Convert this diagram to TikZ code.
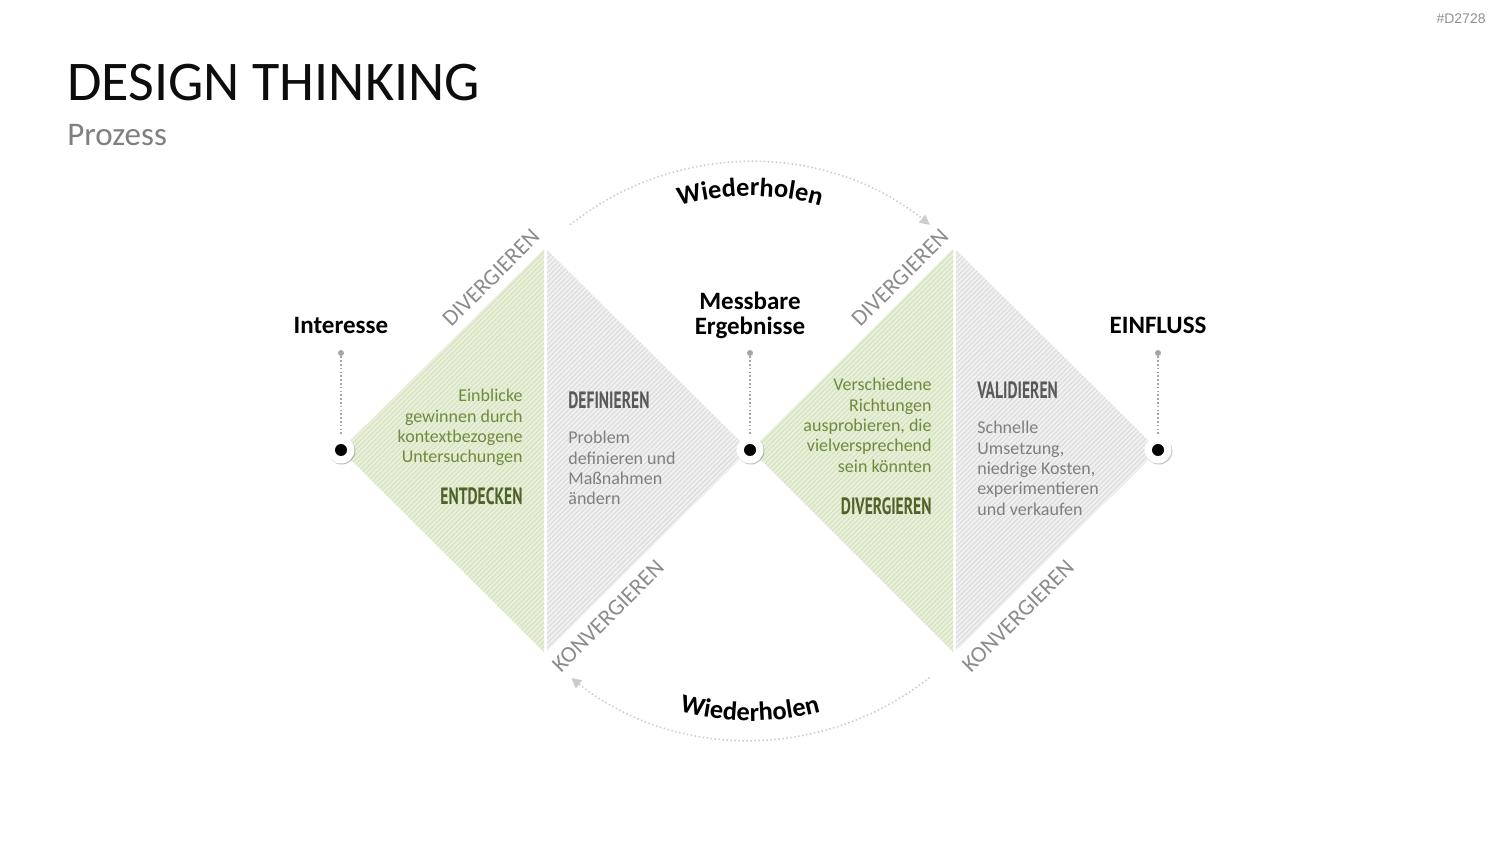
\documentclass[tikz,border=0pt]{standalone}
\usepackage{fontspec}
\setmainfont{Carlito}
\newfontfamily\condfont[FakeStretch=0.66]{PT Sans}
\newfontfamily\tagfont{Liberation Sans}
\usetikzlibrary{patterns.meta,decorations.text,shadows,arrows.meta}
\definecolor{greenfill}{HTML}{E8F0DA}
\definecolor{greenhatch}{HTML}{D3E0BC}
\definecolor{grayfill}{HTML}{F0F0F0}
\definecolor{grayhatch}{HTML}{DADADA}
\definecolor{greentext}{HTML}{6E8B3D}
\definecolor{greenhead}{HTML}{4F6228}
\definecolor{grayhead}{HTML}{595959}
\definecolor{graytext}{HTML}{7F7F7F}
\definecolor{edgegray}{HTML}{8C8C8C}
\definecolor{arcgray}{HTML}{CCCCCC}
\definecolor{stemgray}{HTML}{A6A6A6}
\newcommand\wfont{\fontsize{13.2}{14}\selectfont\bfseries}
\tikzset{
  greenpart/.style={fill=greenfill},
  greenhatchpart/.style={pattern={Lines[angle=45,distance=1.7pt,line width=0.45pt]},pattern color=greenhatch},
  graypart/.style={fill=grayfill},
  grayhatchpart/.style={pattern={Lines[angle=45,distance=1.7pt,line width=0.45pt]},pattern color=grayhatch},
  dotout/.style={circle,fill=white,minimum size=13.5pt,inner sep=0pt,
    drop shadow={shadow xshift=0.4pt,shadow yshift=-0.5pt,opacity=0.25,fill=black}},
  dotin/.style={circle,fill=black,minimum size=6pt,inner sep=0pt},
  smalldot/.style={circle,fill=stemgray,minimum size=3pt,inner sep=0pt},
  stemline/.style={draw=stemgray,line width=0.9pt,dash pattern=on 0.8pt off 1.1pt},
  arcline/.style={draw=arcgray,line width=0.8pt,dash pattern=on 0.7pt off 1.3pt,
    -{Triangle[length=5pt,width=5pt,fill=arcgray]}},
  headlbl/.style={font=\fontsize{12.5}{12.2}\selectfont\bfseries,text=black,inner sep=0pt,align=center},
  bodygreen/.style={font=\fontsize{9}{10.15}\selectfont,text=greentext,inner sep=0pt,align=right},
  bodygray/.style={font=\fontsize{9}{10.15}\selectfont,text=graytext,inner sep=0pt,align=left},
  headgreen/.style={font=\condfont\bfseries\fontsize{11.8}{12}\selectfont,text=greenhead,inner sep=0pt},
  headgray/.style={font=\condfont\bfseries\fontsize{11.8}{12}\selectfont,text=grayhead,inner sep=0pt},
  edgelbl/.style={font=\fontsize{11.5}{12}\selectfont,text=edgegray,inner sep=0pt,rotate=45},
}
\begin{document}
\begin{tikzpicture}[x=0.5pt,y=-0.5pt]
\useasboundingbox (0,0) rectangle (1500,844);
\fill[white] (0,0) rectangle (1500,844);

% title
\node[anchor=base west,inner sep=0pt,font=\fontsize{28}{30}\selectfont,text=black!95] (title) at (67,101) {DESIGN THINKING};
\node[anchor=base west,inner sep=0pt,font=\fontsize{16.5}{18}\selectfont,text=graytext] (subtitle) at (67,146) {Prozess};
\node[anchor=base east,inner sep=0pt,font=\tagfont\fontsize{7}{8}\selectfont,text=graytext!85] (tag) at (1486,24) {\#D2728};

% diamond 1
\path[greenpart] (341,450) -- (544,249) -- (544,652) -- cycle;
\path[greenhatchpart] (341,450) -- (544,249) -- (544,652) -- cycle;
\path[graypart] (547,250) -- (749,450) -- (547,651) -- cycle;
\path[grayhatchpart] (547,250) -- (749,450) -- (547,651) -- cycle;
% diamond 2
\path[greenpart] (751,450) -- (953,249) -- (953,652) -- cycle;
\path[greenhatchpart] (751,450) -- (953,249) -- (953,652) -- cycle;
\path[graypart] (956,250) -- (1158,450) -- (956,651) -- cycle;
\path[grayhatchpart] (956,250) -- (1158,450) -- (956,651) -- cycle;

% edge labels
\node[edgelbl] (div1) at (491,278) {DIVERGIEREN};
\node[edgelbl] (kon1) at (608,616) {KONVERGIEREN};
\node[edgelbl] (div2) at (900,278) {DIVERGIEREN};
\node[edgelbl] (kon2) at (1018,616) {KONVERGIEREN};

% texts diamond 1
\node[bodygreen,anchor=north east] (t1) at (523,389) {Einblicke\\gewinnen durch\\kontextbezogene\\Untersuchungen};
\node[headgreen,anchor=base east] (h1) at (523,505) {ENTDECKEN};
\node[headgray,anchor=base west] (h2) at (568,409) {DEFINIEREN};
\node[bodygray,anchor=north west] (t2) at (568,431) {Problem\\definieren und\\Maßnahmen\\ändern};
% texts diamond 2
\node[bodygreen,anchor=north east] (t3) at (932,378) {Verschiedene\\Richtungen\\ausprobieren, die\\vielversprechend\\sein könnten};
\node[headgreen,anchor=base east] (h3) at (932,515) {DIVERGIEREN};
\node[headgray,anchor=base west] (h4) at (977,399) {VALIDIEREN};
\node[bodygray,anchor=north west] (t4) at (977,421) {Schnelle\\Umsetzung,\\niedrige Kosten,\\experimentieren\\und verkaufen};

% stems and dots
\node[smalldot] (s1) at (341,353) {};
\node[smalldot] (s2) at (750,353) {};
\node[smalldot] (s3) at (1158,353) {};
\node[dotout] (d1) at (341,450) {};
\node[dotout] (d2) at (750,450) {};
\node[dotout] (d3) at (1158,450) {};
\draw[stemline] (s1) -- (d1);
\draw[stemline] (s2) -- (d2);
\draw[stemline] (s3) -- (d3);
\node[dotin] at (d1) {};
\node[dotin] at (d2) {};
\node[dotin] at (d3) {};

% labels
\node[headlbl,anchor=base] (l1) at (341,334) {Interesse};
\node[headlbl,anchor=south] (l2) at (750,339) {Messbare\\Ergebnisse};
\node[headlbl,anchor=base] (l3) at (1158,334) {EINFLUSS};

% arcs
\coordinate (ctr) at (750,451);
\draw[arcline] (ctr) ++(-128.5:289) arc[start angle=-128.5,end angle=-51.5,radius=289];
\draw[arcline] (ctr) ++(51.6:289) arc[start angle=51.6,end angle=128.2,radius=289];
\path[decorate,decoration={text along path,text={|\wfont|Wiederholen},text align=center}]
  (ctr) ++(-125:255) arc[start angle=-125,end angle=-55,radius=255];
\path[decorate,decoration={text along path,text={|\wfont|Wiederholen},text align=center}]
  (ctr) ++(125:270) arc[start angle=125,end angle=55,radius=270];
\end{tikzpicture}
\end{document}
